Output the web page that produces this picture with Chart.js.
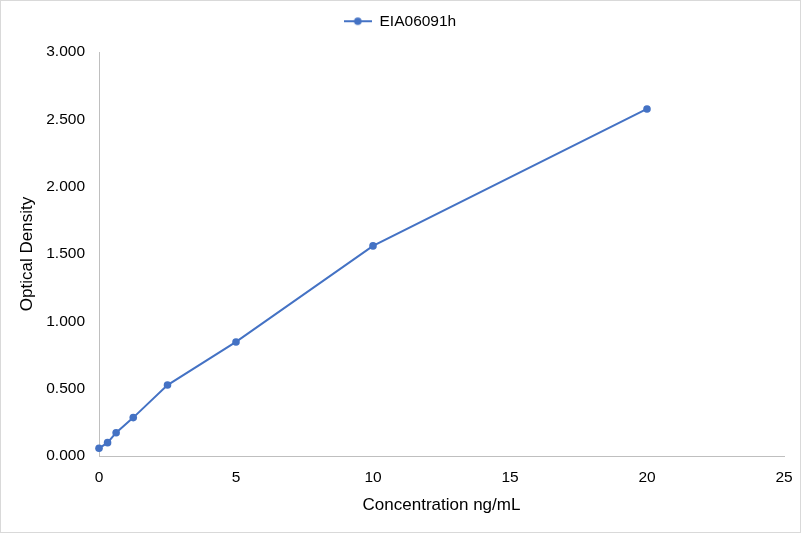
<!DOCTYPE html>
<html>
<head>
<meta charset="utf-8">
<script src="https://cdn.jsdelivr.net/npm/chart.js@4/dist/chart.umd.min.js"></script>
<style>
  html, body { margin: 0; padding: 0; background: #fff; }
  #wrap { position: relative; width: 801px; height: 533px; }
  #frame { position: absolute; left: 0; top: 0; width: 801px; height: 533px; box-sizing: border-box; border: 1px solid #d9d9d9; pointer-events: none; }
</style>
</head>
<body>
<div id="wrap">
  <canvas id="c" width="801" height="533"></canvas>
  <div id="frame"></div>
</div>
<script>
const seriesName = 'EIA06091h';
const concentrations = [0, 0.3125, 0.625, 1.25, 2.5, 5, 10, 20];
const opticalDensity = [0.057, 0.099, 0.173, 0.285, 0.527, 0.847, 1.56, 2.577];
const xTitle = 'Concentration ng/mL';
const yTitle = 'Optical Density';

const blue = '#4472C4';
const FONT = "'Liberation Sans', Arial, sans-serif";

// legend marker: line with a dot
const marker = document.createElement('canvas');
marker.width = 28; marker.height = 10;
(function () {
  const g = marker.getContext('2d');
  g.strokeStyle = blue; g.lineWidth = 2;
  g.beginPath(); g.moveTo(0, 5); g.lineTo(28, 5); g.stroke();
  g.fillStyle = blue;
  g.beginPath(); g.arc(14, 5, 3.8, 0, Math.PI * 2); g.fill();
})();

const legendHeightFix = {
  id: 'legendHeightFix',
  beforeLayout(chart) {
    const lg = chart.legend;
    if (lg && !lg._fixed) {
      const orig = lg.fit;
      lg.fit = function () { orig.call(this); this.height = 48.5; };
      lg._fixed = true;
    }
  }
};

new Chart(document.getElementById('c'), {
  type: 'line',
  data: {
    datasets: [{
      label: seriesName,
      data: concentrations.map((x, i) => ({ x: x, y: opticalDensity[i] })),
      borderColor: blue,
      backgroundColor: blue,
      borderWidth: 2,
      pointRadius: 3.8,
      pointHoverRadius: 3.8,
      pointBackgroundColor: blue,
      pointBorderWidth: 0,
      fill: false,
      clip: false,
      tension: 0
    }]
  },
  options: {
    responsive: false,
    animation: false,
    devicePixelRatio: 1,
    layout: { padding: { top: 3.5, left: 16, right: 17, bottom: 0 } },
    plugins: {
      tooltip: { enabled: false },
      legend: {
        position: 'top',
        labels: {
          font: { family: FONT, size: 15.5 },
          color: '#000',
          padding: 10,
          usePointStyle: true,
          pointStyleWidth: 28,
          boxHeight: 10,
          generateLabels(chart) {
            return [{
              text: seriesName,
              pointStyle: marker,
              fillStyle: blue,
              strokeStyle: blue,
              lineWidth: 0,
              fontColor: '#000',
              datasetIndex: 0,
              hidden: false
            }];
          }
        }
      }
    },
    scales: {
      x: {
        type: 'linear',
        min: 0, max: 25,
        afterFit(s) { s.height = 77; s.paddingRight = 0; s.paddingLeft = 0; },
        ticks: { stepSize: 5, padding: 12, color: '#000', font: { family: FONT, size: 15.5 }, maxRotation: 0 },
        grid: { display: true, color: 'rgba(0,0,0,0)', drawTicks: false },
        border: { display: true, color: '#bfbfbf', width: 1 },
        title: { display: true, text: xTitle, color: '#000', font: { family: FONT, size: 17 }, padding: { top: 0, bottom: 17 } }
      },
      y: {
        type: 'linear',
        min: 0, max: 3,
        afterFit(s) { s.width = 83; },
        ticks: { stepSize: 0.5, padding: 14, color: '#000', font: { family: FONT, size: 15.5 }, callback: v => Number(v).toFixed(3) },
        grid: { display: true, color: 'rgba(0,0,0,0)', drawTicks: false },
        border: { display: true, color: '#bfbfbf', width: 1 },
        title: { display: true, text: yTitle, color: '#000', font: { family: FONT, size: 17 }, padding: { top: 1, bottom: 0 } }
      }
    }
  },
  plugins: [legendHeightFix]
});
</script>
</body>
</html>
